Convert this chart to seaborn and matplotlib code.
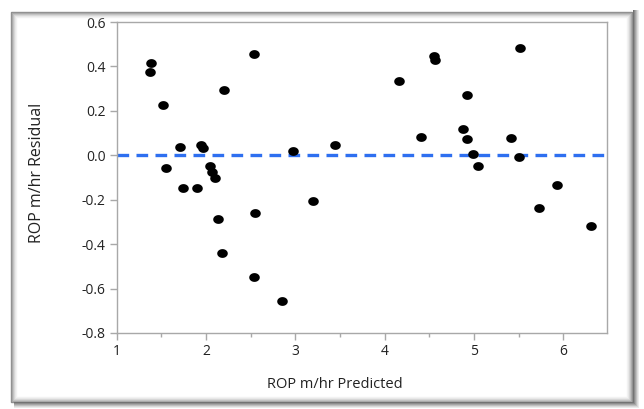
import numpy as np
import pandas as pd
import matplotlib
matplotlib.use("Agg")
import matplotlib.pyplot as plt
from matplotlib.path import Path
from matplotlib.patches import Rectangle
from matplotlib.ticker import MultipleLocator
import seaborn as sns

predicted = [1.373, 1.388, 1.522, 2.544, 2.208, 1.709, 1.553, 1.947, 1.966, 2.048,
             2.074, 2.104, 1.743, 1.899, 2.977, 3.204, 2.134, 2.555, 2.182, 2.540,
             2.850, 3.446, 4.162, 4.550, 4.568, 5.516, 4.919, 4.412, 4.878, 4.923,
             5.415, 4.990, 5.501, 5.043, 5.930, 5.728, 6.306]
residual = [0.376, 0.414, 0.225, 0.456, 0.292, 0.037, -0.056, 0.047, 0.032, -0.049,
            -0.074, -0.104, -0.146, -0.149, 0.020, -0.206, -0.286, -0.262, -0.441, -0.550,
            -0.654, 0.047, 0.334, 0.448, 0.429, 0.481, 0.273, 0.083, 0.118, 0.072,
            0.077, 0.004, -0.007, -0.049, -0.134, -0.236, -0.318]
x_ticks = [1, 2, 3, 4, 5, 6]
y_ticks = [-0.8, -0.6, -0.4, -0.2, 0.0, 0.2, 0.4, 0.6]
x_label = "ROP m/hr Predicted"
y_label = "ROP m/hr Residual"

df = pd.DataFrame({"pred": predicted, "resid": residual})

sns.set_style("white")
plt.rcParams['font.family'] = ['Open Sans', 'DejaVu Sans']

W, H = 644, 409
fig = plt.figure(figsize=(W / 100, H / 100), dpi=100)
fig.patch.set_facecolor("white")

def fx(px):
    return px / W
def fy(py):
    return 1 - py / H

# frame with soft inner gradient
grays = [0.55, 0.65, 0.75, 0.83, 0.90, 0.95]
for i, g in enumerate(grays):
    fig.add_artist(Rectangle((fx(11 + i), fy(402 - i)), fx(621 - 2 * i), (390 - 2 * i) / H,
                             transform=fig.transFigure, fill=False,
                             edgecolor=(g, g, g), linewidth=1.0))
# darker shadow right and bottom
sh = [0.45, 0.55, 0.65, 0.75, 0.85, 0.92]
for i, g in enumerate(sh):
    fig.add_artist(Rectangle((fx(633 + i), fy(408)), 1 / W, 398 / H,
                             transform=fig.transFigure, color=(g, g, g), linewidth=0))
    fig.add_artist(Rectangle((fx(14), fy(403 + i)), 625 / W, 1 / H,
                             transform=fig.transFigure, color=(g, g, g), linewidth=0))

ax = fig.add_axes([fx(116.5), fy(333), (607 - 116.5) / W, (333 - 22) / H])
ax.set_facecolor("white")

t = np.linspace(0, 2 * np.pi, 40)
ell = Path(np.column_stack([np.cos(t) * 1.2, np.sin(t)]))
sns.scatterplot(data=df, x="pred", y="resid", ax=ax, marker=ell, s=58,
                color="black", edgecolor="black", linewidth=0, zorder=3)
ax.axhline(0, color="#2e6ff0", linewidth=2.4, dashes=(3.5, 2.2), zorder=2)

ax.set_xlim(1, 6.49)
ax.set_ylim(-0.8, 0.6)
ax.set_xticks(x_ticks)
ax.set_xticklabels([str(v) for v in x_ticks])
ax.xaxis.set_minor_locator(MultipleLocator(0.5))
ax.set_yticks(y_ticks)
ax.set_yticklabels([f"{v:.1f}" for v in y_ticks])

for s in ax.spines.values():
    s.set_color("#a8a8a8")
    s.set_linewidth(1.0)
ax.tick_params(axis="both", which="major", direction="out", length=5, width=1,
               color="#a8a8a8", labelsize=10, labelcolor="#222222", pad=3,
               bottom=True, left=True)
ax.tick_params(axis="x", which="minor", direction="out", length=3, width=1,
               color="#a8a8a8", bottom=True)
ax.set_xlabel("")
ax.set_ylabel("")

fig.text(fx(335), fy(384), x_label, ha="center", va="center", fontsize=10.5, color="#222222")
fig.text(fx(37), fy(173), y_label, ha="center", va="center", rotation=90,
         fontsize=11.5, color="#222222")

fig.savefig("out.png", dpi=100, facecolor="white")
